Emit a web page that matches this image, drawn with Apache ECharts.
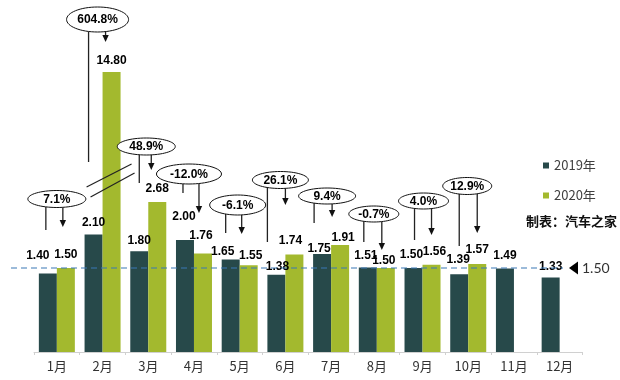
<!DOCTYPE html>
<html><head><meta charset="utf-8">
<script src="https://cdn.jsdelivr.net/npm/echarts@6/dist/echarts.min.js"></script>
<style>html,body{margin:0;padding:0;background:#fff}#c{width:620px;height:380px}</style>
</head><body><div id="c"></div>
<script>
// ---------- data ----------
const months = ['1月','2月','3月','4月','5月','6月','7月','8月','9月','10月','11月','12月'];
const sales2019 = [1.40, 2.10, 1.80, 2.00, 1.65, 1.38, 1.75, 1.51, 1.50, 1.39, 1.49, 1.33];
const sales2020 = [1.50, 14.80, 2.68, 1.76, 1.55, 1.74, 1.91, 1.50, 1.56, 1.57, null, null];
const yoyChange = ['7.1%', '604.8%', '48.9%', '-12.0%', '-6.1%', '26.1%', '9.4%', '-0.7%', '4.0%', '12.9%'];
const seriesNames = ['2019年', '2020年'];
const referenceValue = 1.50;
const referenceText = '1.50';
const sourceNote = '制表：汽车之家';

// ---------- style / layout ----------
const colors = ['#27494a', '#a3b92e'];
const axisCap = 5; // broken axis: bars above this are cut at the top of the plot
const labelShift2019 = [[-10,-7],[0,-1],[0,0],[-1,-12],[-8,3],[1,3],[-3,6],[-2,-1],[-2,-2],[-1,-3],[0,-2],[0,0]];
const labelShift2020 = [[0,-2],[0,0],[0,-2],[-2,-7],[2,1],[-4,-3],[3,4],[-2,4],[3,-2],[0,-3],[0,0],[0,0]];
const annotationLayout = [
  {dx:0,  cy:199,  w:58, h:17, lx:-11, ly:230, ax:6, ay:227},
  {dx:-5, cy:19.5, w:62, h:25, lx:-14, ly:162, ax:3, ay:42},
  {dx:-2, cy:146.5,w:58, h:17, lx:-9,  ly:183, ax:3, ay:170},
  {dx:-5, cy:174,  w:65, h:20, lx:-11, ly:193, ax:5, ay:213},
  {dx:-2, cy:205,  w:56, h:20, lx:-14, ly:233, ax:2, ay:234},
  {dx:-5, cy:180,  w:56, h:17, lx:-18, ly:242, ax:0, ay:205},
  {dx:-4, cy:196,  w:57, h:16, lx:-17, ly:223, ax:1, ay:217},
  {dx:-3, cy:214,  w:50, h:16, lx:-13, ly:242, ax:5, ay:250},
  {dx:1,  cy:201,  w:50, h:16, lx:-8,  ly:240, ax:9, ay:235},
  {dx:-1, cy:186,  w:49, h:17, lx:-9,  ly:246, ax:9, ay:233}
];
const breakMark = {cat:1, lines:[[-16,187,29,164],[-12,197,32,173]]};

const cjk = '"Noto Sans CJK SC", "Noto Sans", sans-serif';

function withLabels(values, shifts) {
  return values.map((v, i) => v == null ? null : {value: v, label: {offset: shifts[i]}});
}

const chart = echarts.init(document.getElementById('c'), null, {renderer: 'canvas'});
const labelCommon = {
  show: true, position: 'top', distance: 5, color: '#000',
  fontWeight: 'bold', fontSize: 12, fontFamily: '"Liberation Sans", Arial, sans-serif',
  formatter: p => Number(p.value).toFixed(2)
};
chart.setOption({
  animation: false,
  backgroundColor: '#fff',
  grid: {left: 34, right: 37.5, top: 72, bottom: 28, containLabel: false},
  legend: {
    data: seriesNames, orient: 'vertical', left: 538, top: 154,
    icon: 'rect', itemWidth: 6, itemHeight: 6, itemGap: 17,
    textStyle: {fontSize: 13, color: '#404040', fontFamily: cjk}
  },
  xAxis: {
    type: 'category', data: months, boundaryGap: true,
    axisLine: {lineStyle: {color: '#d0d0d0', width: 1}},
    axisTick: {show: true, length: 3, lineStyle: {color: '#d0d0d0'}},
    axisLabel: {color: '#333', fontSize: 13, fontFamily: cjk, margin: 8}
  },
  yAxis: {
    type: 'value', min: 0, max: axisCap, show: false,
    splitLine: {show: false}
  },
  series: [
    {name: seriesNames[0], type: 'bar', data: withLabels(sales2019, labelShift2019),
     barWidth: 18, barGap: '0%', itemStyle: {color: colors[0]}, label: labelCommon, clip: true},
    {name: seriesNames[1], type: 'bar', data: withLabels(sales2020, labelShift2020),
     barWidth: 18, barGap: '0%', itemStyle: {color: colors[1]}, label: labelCommon, clip: true}
  ]
});

// ---------- annotations ----------
const g = [];
const lineStyle = {stroke: '#222', lineWidth: 1.3};
function catX(i) { return chart.convertToPixel({xAxisIndex: 0}, i); }
function arrowHead(x, y) {
  return {type: 'polygon', z: 101, shape: {points: [[x - 3.2, y - 7], [x + 3.2, y - 7], [x, y]]}, style: {fill: '#111'}};
}
yoyChange.forEach((txt, i) => {
  const L = annotationLayout[i];
  const cx = catX(i) + L.dx, rx = L.w / 2, ry = L.h / 2;
  const edge = x => {
    const t = (x - cx) / rx;
    return L.cy + ry * Math.sqrt(Math.max(0, 1 - t * t));
  };
  const lx = catX(i) + L.lx, ax = catX(i) + L.ax;
  g.push({type: 'line', z: 100, shape: {x1: lx, y1: edge(lx), x2: lx, y2: L.ly}, style: lineStyle});
  g.push({type: 'line', z: 100, shape: {x1: ax, y1: edge(ax), x2: ax, y2: L.ay - 5}, style: lineStyle});
  g.push(arrowHead(ax, L.ay));
  g.push({type: 'ellipse', z: 102, shape: {cx: cx, cy: L.cy, rx: rx, ry: ry},
          style: {fill: '#fff', stroke: '#111', lineWidth: 1}});
  g.push({type: 'text', z: 103, x: cx, y: L.cy + 0.5,
          style: {text: txt, font: 'bold 12px "Liberation Sans", Arial, sans-serif', fill: '#000',
                  align: 'center', verticalAlign: 'middle', textAlign: 'center', textVerticalAlign: 'middle'}});
});
// break mark on the truncated bar
breakMark.lines.forEach(s => {
  const c = catX(breakMark.cat);
  g.push({type: 'line', z: 100, shape: {x1: c + s[0], y1: s[1], x2: c + s[2], y2: s[3]}, style: {stroke: '#222', lineWidth: 1.2}});
});
// reference line at 1.50
const refY = chart.convertToPixel({yAxisIndex: 0}, referenceValue);
g.push({type: 'line', z: 90, shape: {x1: 11, y1: refY, x2: 563, y2: refY},
        style: {stroke: '#3a78b5', lineWidth: 1.2, lineDash: [6, 4]}});
g.push({type: 'polygon', z: 100, shape: {points: [[569, refY], [578, refY - 6.5], [578, refY + 6.5]]}, style: {fill: '#000'}});
g.push({type: 'text', z: 100, x: 582, y: refY + 0.5,
        style: {text: referenceText, font: '14px Lato, "Open Sans", sans-serif', fill: '#333',
                align: 'left', verticalAlign: 'middle', textAlign: 'left', textVerticalAlign: 'middle'}});
// source note
g.push({type: 'text', z: 100, x: 526, y: 221,
        style: {text: sourceNote, font: 'bold 13px ' + cjk, fill: '#111',
                align: 'left', verticalAlign: 'middle', textAlign: 'left', textVerticalAlign: 'middle'}});
chart.setOption({graphic: g});
</script></body></html>
